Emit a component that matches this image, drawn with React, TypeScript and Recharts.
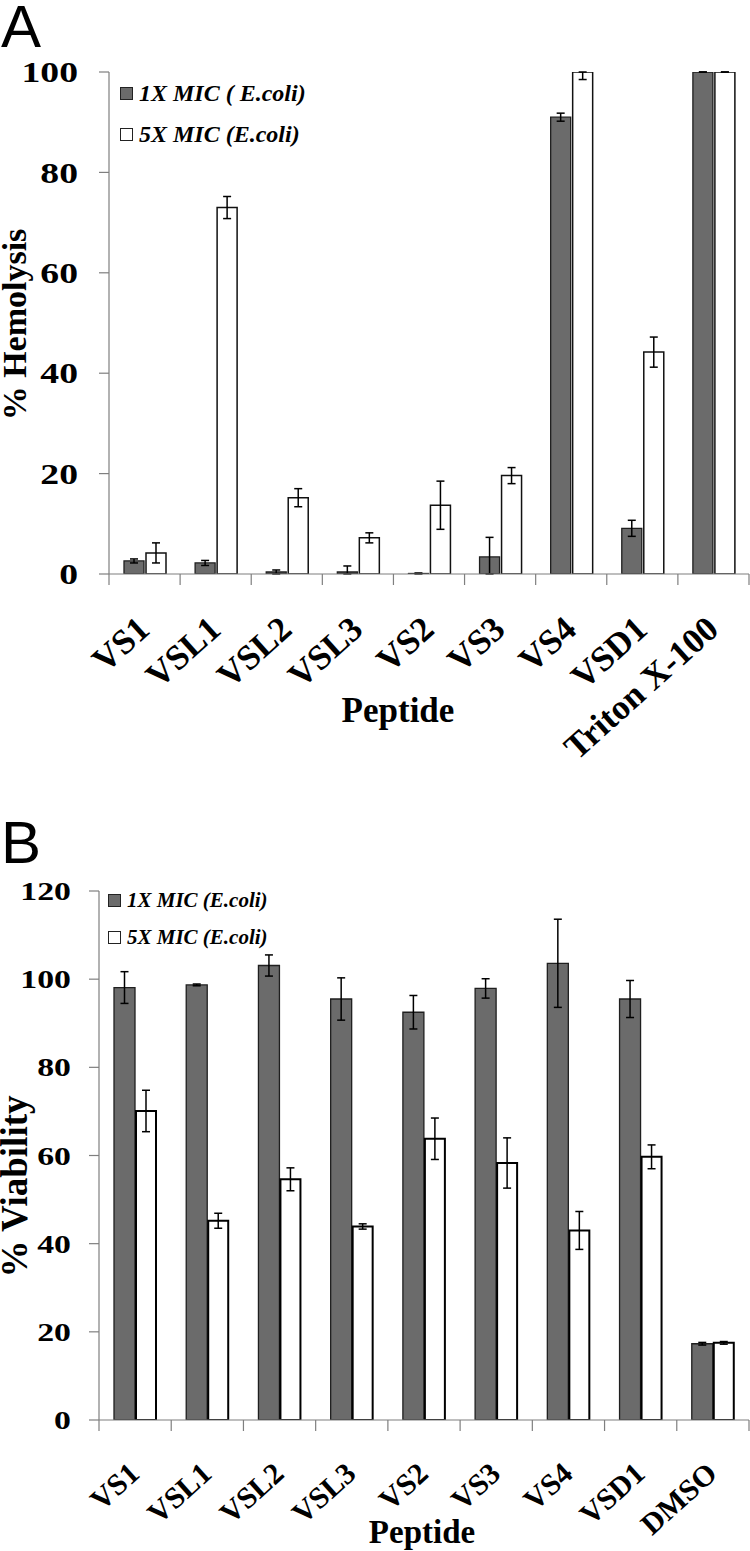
import React from 'react';
import { BarChart, Bar, XAxis, YAxis, ErrorBar, Legend, Label } from 'recharts';

// Panel A: hemolysis
const peptidesA = ['VS1', 'VSL1', 'VSL2', 'VSL3', 'VS2', 'VS3', 'VS4', 'VSD1', 'Triton X-100'];
const hemo1x = [2.6, 2.2, 0.4, 0.4, 0.1, 3.4, 91.0, 9.1, 100];
const hemo1xErr = [0.4, 0.5, 0.4, 1.2, 0.1, 3.9, 0.8, 1.6, 0];
const hemo5x = [4.2, 73.0, 15.2, 7.2, 13.7, 19.6, 100, 44.2, 100];
const hemo5xErr = [2.0, 2.2, 1.8, 1.0, 4.8, 1.6, 1.5, 3.0, 0];
const ticksA = [0, 20, 40, 60, 80, 100];

// Panel B: viability
const peptidesB = ['VS1', 'VSL1', 'VSL2', 'VSL3', 'VS2', 'VS3', 'VS4', 'VSD1', 'DMSO'];
const via1x = [98.1, 98.7, 103.1, 95.5, 92.5, 97.9, 103.6, 95.5, 17.3];
const via1xErr = [3.6, 0.2, 2.4, 4.8, 3.8, 2.2, 10.0, 4.2, 0.3];
const via5x = [70.1, 45.2, 54.6, 43.9, 63.8, 58.3, 43.0, 59.7, 17.5];
const via5xErr = [4.7, 1.7, 2.6, 0.6, 4.7, 5.7, 4.3, 2.7, 0.3];
const ticksB = [0, 20, 40, 60, 80, 100, 120];

const SERIF = '"Liberation Serif", "Times New Roman", Times, serif';
const SANS = '"Liberation Sans", Arial, sans-serif';
const AXIS = '#7f7f7f';
const DARK = '#6b6b6b';

// error bars are clipped to the axis range, like in the original figure
const buildRows = (cats: string[], a: number[], aErr: number[], b: number[], bErr: number[], max: number) =>
  cats.map((name, i) => ({
    name,
    x1: a[i],
    x1Err: [Math.min(aErr[i], a[i]), Math.min(aErr[i], max - a[i])],
    x5: b[i],
    x5Err: [Math.min(bErr[i], b[i]), Math.min(bErr[i], max - b[i])],
  }));

const rowsA = buildRows(peptidesA, hemo1x, hemo1xErr, hemo5x, hemo5xErr, 100);
const rowsB = buildRows(peptidesB, via1x, via1xErr, via5x, via5xErr, 120);

const YTick = ({ x, y, payload, size }: any) => (
  <text
    transform={`translate(${x},${y}) scale(1.3,1)`}
    textAnchor="end"
    dy="0.35em"
    fontFamily={SERIF}
    fontWeight="bold"
    fontSize={size}
    fill="#000"
  >
    {payload.value}
  </text>
);

// category axis with tick marks on the band boundaries (Excel style)
const XTick = ({ x, y, payload, index, band, count, dx, dy, angle, size }: any) => {
  const half = band / 2;
  const tx = x + dx;
  const ty = y + dy;
  return (
    <g>
      <line x1={x - half} y1={y} x2={x - half} y2={y + 11} stroke={AXIS} strokeWidth={1.2} />
      {index === count - 1 && (
        <line x1={x + half} y1={y} x2={x + half} y2={y + 11} stroke={AXIS} strokeWidth={1.2} />
      )}
      <text
        x={tx}
        y={ty}
        textAnchor="end"
        transform={`rotate(${angle}, ${tx}, ${ty})`}
        fontFamily={SERIF}
        fontWeight="bold"
        fontSize={size}
        fill="#000"
      >
        {payload.value}
      </text>
    </g>
  );
};

const LegendBox = ({ payload, rowH, size }: any) => (
  <div>
    {(payload || []).map((p: any) => (
      <div key={p.value} style={{ display: 'flex', alignItems: 'center', height: rowH }}>
        <span
          style={{
            width: 11,
            height: 11,
            background: p.color,
            border: '1px solid #222',
            display: 'inline-block',
          }}
        />
        <span
          style={{
            marginLeft: 6,
            fontFamily: SERIF,
            fontStyle: 'italic',
            fontWeight: 'bold',
            fontSize: size,
            color: '#000',
            whiteSpace: 'nowrap',
          }}
        >
          {p.value}
        </span>
      </div>
    ))}
  </div>
);

const xTitle = (text: string, dx: number, baseline: number, size: number) => (props: any) => {
  const vb = props.viewBox;
  return (
    <text
      x={vb.x + vb.width / 2 + dx}
      y={baseline}
      textAnchor="middle"
      fontFamily={SERIF}
      fontWeight="bold"
      fontSize={size}
      fill="#000"
    >
      {text}
    </text>
  );
};

const yTitle = (text: string, cx: number, shift: number, size: number) => (props: any) => {
  const vb = props.viewBox;
  const cy = vb.y + vb.height / 2 + shift;
  return (
    <text
      x={cx}
      y={cy}
      dy="0.35em"
      textAnchor="middle"
      transform={`rotate(-90, ${cx}, ${cy})`}
      fontFamily={SERIF}
      fontWeight="bold"
      fontSize={size}
      fill="#000"
    >
      {text}
    </text>
  );
};

const PanelLetter = ({ letter, top }: { letter: string; top: number }) => (
  <div
    style={{
      position: 'absolute',
      left: 1,
      top,
      fontFamily: SANS,
      fontSize: 60,
      lineHeight: '50px',
      color: '#000',
    }}
  >
    {letter}
  </div>
);

export default function App() {
  const bandA = (750 - 109 - 1) / peptidesA.length;
  const bandB = (750 - 99 - 1) / peptidesB.length;

  return (
    <div style={{ position: 'absolute', left: 0, top: 0, width: 750, height: 1551, background: '#fff' }}>
      <PanelLetter letter="A" top={2} />
      <div style={{ position: 'absolute', left: 0, top: 0 }}>
        <BarChart
          width={750}
          height={800}
          data={rowsA}
          margin={{ top: 72, right: 1, left: 0, bottom: 0 }}
          barGap={2}
        >
          <XAxis
            dataKey="name"
            height={226}
            interval={0}
            tickLine={false}
            tickSize={0}
            tickMargin={0}
            axisLine={{ stroke: AXIS, strokeWidth: 1.2 }}
            tick={<XTick band={bandA} count={peptidesA.length} dx={7} dy={58} angle={-42} size={35} />}
          >
            <Label content={xTitle('Peptide', -31, 722, 35)} />
          </XAxis>
          <YAxis
            width={109}
            domain={[0, 100]}
            ticks={ticksA}
            allowDataOverflow
            tickSize={10}
            tickMargin={21}
            tickLine={{ stroke: AXIS, strokeWidth: 1.2 }}
            axisLine={{ stroke: AXIS, strokeWidth: 1.2 }}
            tick={<YTick size={29} />}
          >
            <Label content={yTitle('% Hemolysis', 14, 1.5, 34)} />
          </YAxis>
          <Legend
            layout="vertical"
            align="center"
            verticalAlign="middle"
            wrapperStyle={{ left: 120, top: 73, width: 'auto' }}
            content={<LegendBox rowH={41} size={24} />}
          />
          <Bar
            dataKey="x1"
            name="1X MIC ( E.coli)"
            fill={DARK}
            stroke="#1f1f1f"
            strokeWidth={1.3}
            barSize={20}
            isAnimationActive={false}
          >
            <ErrorBar dataKey="x1Err" direction="y" width={4} stroke="#000" strokeWidth={1.5} />
          </Bar>
          <Bar
            dataKey="x5"
            name="5X MIC (E.coli)"
            fill="#ffffff"
            stroke="#111"
            strokeWidth={1.5}
            barSize={20}
            isAnimationActive={false}
          >
            <ErrorBar dataKey="x5Err" direction="y" width={4} stroke="#000" strokeWidth={1.5} />
          </Bar>
        </BarChart>
      </div>

      <PanelLetter letter="B" top={818} />
      <div style={{ position: 'absolute', left: 0, top: 800 }}>
        <BarChart
          width={750}
          height={751}
          data={rowsB}
          margin={{ top: 91, right: 1, left: 0, bottom: 0 }}
          barGap={1}
        >
          <XAxis
            dataKey="name"
            height={131}
            interval={0}
            tickLine={false}
            tickSize={0}
            tickMargin={0}
            axisLine={{ stroke: AXIS, strokeWidth: 1.2 }}
            tick={<XTick band={bandB} count={peptidesB.length} dx={6} dy={56} angle={-42} size={30} />}
          >
            <Label content={xTitle('Peptide', -2, 743, 33)} />
          </XAxis>
          <YAxis
            width={99}
            domain={[0, 120]}
            ticks={ticksB}
            allowDataOverflow
            tickSize={10}
            tickMargin={18}
            tickLine={{ stroke: AXIS, strokeWidth: 1.2 }}
            axisLine={{ stroke: AXIS, strokeWidth: 1.2 }}
            tick={<YTick size={26} />}
          >
            <Label content={yTitle('% Viability', 14, 31, 37)} />
          </YAxis>
          <Legend
            layout="vertical"
            align="center"
            verticalAlign="middle"
            wrapperStyle={{ left: 108, top: 82, width: 'auto' }}
            content={<LegendBox rowH={37} size={21} />}
          />
          <Bar
            dataKey="x1"
            name="1X MIC (E.coli)"
            fill={DARK}
            stroke="#1f1f1f"
            strokeWidth={1.3}
            barSize={21}
            isAnimationActive={false}
          >
            <ErrorBar dataKey="x1Err" direction="y" width={4} stroke="#000" strokeWidth={1.5} />
          </Bar>
          <Bar
            dataKey="x5"
            name="5X MIC (E.coli)"
            fill="#ffffff"
            stroke="#000"
            strokeWidth={2}
            barSize={20}
            isAnimationActive={false}
          >
            <ErrorBar dataKey="x5Err" direction="y" width={4} stroke="#000" strokeWidth={1.5} />
          </Bar>
        </BarChart>
      </div>
    </div>
  );
}
